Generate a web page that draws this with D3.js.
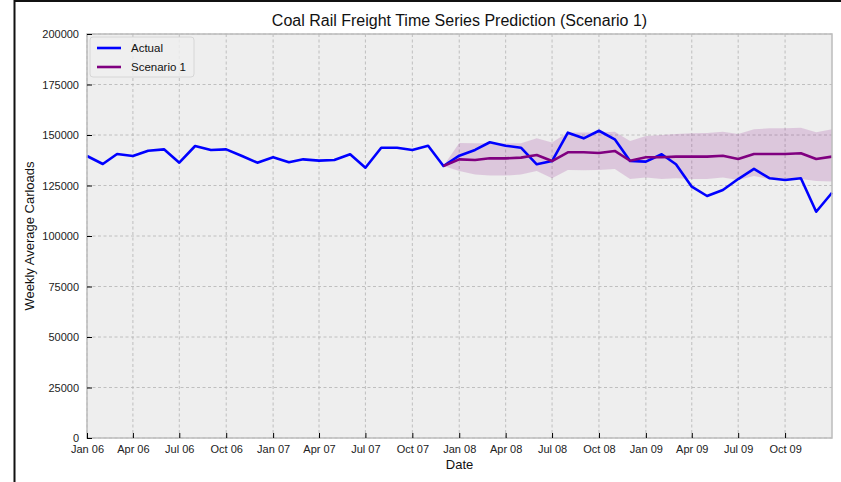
<!DOCTYPE html>
<html><head><meta charset="utf-8">
<script src="https://cdn.jsdelivr.net/npm/d3@7"></script>
<style>
html,body{margin:0;padding:0;background:#fff;}
svg{display:block;font-family:"Liberation Sans",Arial,Helvetica,sans-serif;}
</style></head>
<body>
<svg id="chart" width="841" height="482"></svg>
<script>
const startDate = new Date(2006, 0, 1);
const actualValues = [139600,135650,140600,139600,142200,142900,136300,144550,142600,142900,139600,136300,
  138950,136500,137950,137300,137600,140450,133800,143700,143700,142600,144700,134650,
  139750,142600,146400,144700,143700,135500,137100,151150,148350,152100,147850,137100,
  136800,140450,135500,124400,119800,122800,128200,133200,128550,127700,128550,112000,121400];
const forecastStart = 23;
const scenarioValues = [134650,137950,137600,138450,138450,138800,140100,137100,141450,141450,141100,142100,
  137250,138950,138950,139300,139300,139300,139750,138100,140600,140600,140600,140950,138100,139300];
const upperValues = [134650,146000,145900,145900,145900,145900,148350,146300,151200,151200,151200,151650,
  147000,149500,150000,150500,150850,151000,151650,150500,152800,153300,153300,153600,151300,152800];
const lowerValues = [134650,132200,130500,129900,129900,130500,132200,128550,132700,132500,132700,133200,
  128200,129000,128200,128550,128200,128200,128900,127700,129700,128050,128050,128200,127200,126950];
const yTicks = [0,25000,50000,75000,100000,125000,150000,175000,200000];
const xTickLabels = ["Jan 06","Apr 06","Jul 06","Oct 06","Jan 07","Apr 07","Jul 07","Oct 07",
  "Jan 08","Apr 08","Jul 08","Oct 08","Jan 09","Apr 09","Jul 09","Oct 09"];
const seriesNames = ["Actual","Scenario 1"];
const colors = {actual:"#0000ff", scenario:"#800080"};

const monthDate = i => new Date(2006, i, 1);
const actual = actualValues.map((v,i)=>({d:monthDate(i), v}));
const scen = scenarioValues.map((v,i)=>({d:monthDate(forecastStart+i), v, hi:upperValues[i], lo:lowerValues[i]}));
const xTickDates = xTickLabels.map((_,i)=>monthDate(i*3));

const svg = d3.select("#chart");
const m = {left:87, right:832, top:34, bottom:438};

// figure border
svg.append("line").attr("x1",14.5).attr("x2",14.5).attr("y1",0).attr("y2",482).attr("stroke","#111").attr("stroke-width",2);
svg.append("line").attr("x1",14).attr("x2",841).attr("y1",1).attr("y2",1).attr("stroke","#111").attr("stroke-width",2);

const x = d3.scaleTime().domain([startDate, monthDate(actualValues.length-1)]).range([m.left, m.right]);
const y = d3.scaleLinear().domain([0,200000]).range([m.bottom, m.top]);

svg.append("rect").attr("x",m.left).attr("y",m.top).attr("width",m.right-m.left).attr("height",m.bottom-m.top)
  .attr("fill","#eeeeee");

// grid
const g = svg.append("g");
g.selectAll(".gx").data(xTickDates).join("line")
  .attr("x1",d=>x(d)).attr("x2",d=>x(d)).attr("y1",m.top).attr("y2",m.bottom)
  .attr("stroke","#b2b2b2").attr("stroke-width",0.8).attr("stroke-dasharray","3,2.5");
g.selectAll(".gy").data(yTicks).join("line")
  .attr("x1",m.left).attr("x2",m.right).attr("y1",d=>y(d)).attr("y2",d=>y(d))
  .attr("stroke","#b2b2b2").attr("stroke-width",0.8).attr("stroke-dasharray","3,2.5");

// band
const area = d3.area().x(d=>x(d.d)).y0(d=>y(d.lo)).y1(d=>y(d.hi));
svg.append("path").datum(scen).attr("d",area).attr("fill","#800080").attr("fill-opacity",0.16);

const line = d3.line().x(d=>x(d.d)).y(d=>y(d.v));
svg.append("path").datum(actual).attr("d",line).attr("fill","none").attr("stroke",colors.actual)
  .attr("stroke-width",2.6).attr("stroke-linejoin","round");
svg.append("path").datum(scen).attr("d",line).attr("fill","none").attr("stroke",colors.scenario)
  .attr("stroke-width",2.6).attr("stroke-linejoin","round");

// frame
svg.append("rect").attr("x",m.left).attr("y",m.top).attr("width",m.right-m.left).attr("height",m.bottom-m.top)
  .attr("fill","none").attr("stroke","#bcbcbc").attr("stroke-width",1.5);

// axes
const xAxis = d3.axisBottom(x).tickValues(xTickDates).tickFormat((d,i)=>xTickLabels[i]).tickSizeInner(-5).tickSizeOuter(0).tickPadding(7);
const xa = svg.append("g").attr("transform",`translate(0,${m.bottom})`).call(xAxis);
const yAxis = d3.axisLeft(y).tickValues(yTicks).tickFormat(d3.format("d")).tickSizeInner(-5).tickSizeOuter(0).tickPadding(8);
const ya = svg.append("g").attr("transform",`translate(${m.left},0)`).call(yAxis);
[xa,ya].forEach(a=>{
  a.select(".domain").remove();
  a.selectAll(".tick line").attr("stroke","#000").attr("stroke-width",1);
  a.selectAll(".tick text").attr("fill","#222").style("font-size","11px").style("font-family","'Liberation Sans',Arial,sans-serif");
});

// labels
svg.append("text").attr("x",(m.left+m.right)/2).attr("y",26).attr("text-anchor","middle")
  .style("font-size","16px").attr("fill","#111").text("Coal Rail Freight Time Series Prediction (Scenario 1)");
svg.append("text").attr("x",(m.left+m.right)/2).attr("y",469).attr("text-anchor","middle")
  .style("font-size","13px").attr("fill","#111").text("Date");
svg.append("text").attr("transform",`translate(34,${(m.top+m.bottom)/2}) rotate(-90)`).attr("text-anchor","middle")
  .style("font-size","13px").attr("fill","#111").text("Weekly Average Carloads");

// legend
const lg = svg.append("g").attr("transform","translate(90,37)");
lg.append("rect").attr("x",0).attr("y",0).attr("width",104).attr("height",40).attr("rx",3)
  .attr("fill","#eeeeee").attr("fill-opacity",0.85).attr("stroke","#d0d0d0").attr("stroke-width",0.8);
[colors.actual, colors.scenario].forEach((c,i)=>{
  lg.append("line").attr("x1",7).attr("x2",31).attr("y1",11+i*19).attr("y2",11+i*19).attr("stroke",c).attr("stroke-width",2.6);
  lg.append("text").attr("x",41).attr("y",15+i*19).style("font-size","11.5px").attr("fill","#111").text(seriesNames[i]);
});
</script>
</body></html>
